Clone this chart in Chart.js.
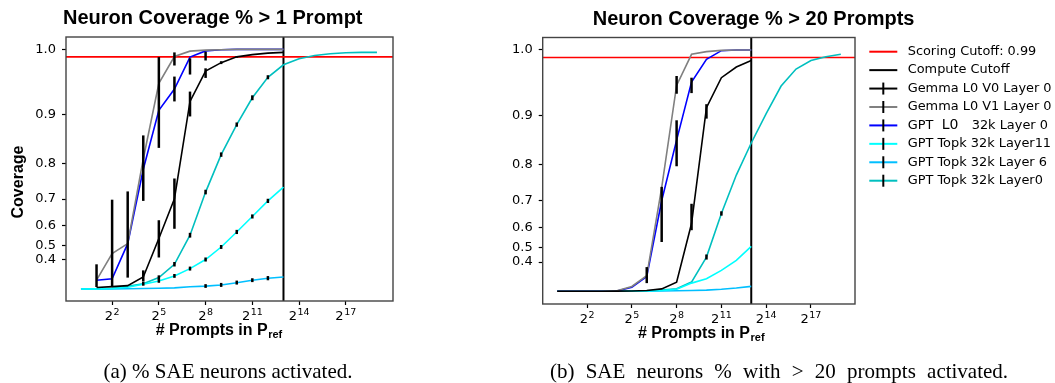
<!DOCTYPE html>
<html><head><meta charset="utf-8">
<script src="https://cdn.jsdelivr.net/npm/chart.js@4.4.1/dist/chart.umd.min.js"></script>
<style>
html,body{margin:0;padding:0;background:#fff;}
body{width:1055px;height:383px;position:relative;overflow:hidden;}
.layer{position:absolute;left:0;top:0;width:1055px;height:383px;}
.cap{position:absolute;font-family:'Liberation Serif','Times New Roman',serif;font-size:21px;color:#000;white-space:nowrap;transform:translateX(-50%);line-height:1;}
</style></head><body>
<div class="layer"><canvas id="ca" width="1055" height="383"></canvas></div>
<div class="layer"><canvas id="cb" width="1055" height="383"></canvas></div>
<div class="cap" style="left:228px;top:361px">(a) % SAE neurons activated.</div>
<div class="cap" style="left:779px;top:361px;word-spacing:6px">(b) SAE neurons % with &gt; 20 prompts activated.</div>
<script>
// ================= DATA =================
const prompts = [1,2,4,8,16,32,64,128,256,512,1024,2048,4096,8192];
const promptsLong = [1,2,4,8,16,32,64,128,256,512,1024,2048,4096,8192,16384,32768,65536,131072,262144,524288];
const xTickValues = [4,32,256,2048,16384,131072];
const xTickBase = ['2','2','2','2','2','2'];
const xTickExp = ['2','5','8','11','14','17'];
const yTickValues = [0.4,0.5,0.6,0.7,0.8,0.9,1.0];
const yTickLabels = ['0.4','0.5','0.6','0.7','0.8','0.9','1.0'];
const scoringCutoff = 0.99;
const computeCutoff = 8192;
const seriesLabels = ['Gemma L0 V0 Layer 0','Gemma L0 V1 Layer 0','GPT  L0  32k Layer 0','GPT Topk 32k Layer11','GPT Topk 32k Layer 6','GPT Topk 32k Layer0'];

// (a) Neuron coverage > 1 prompt
const gemmaV0A    = [null,0.04,0.06,0.08,0.224,0.538,0.701,0.923,0.970,0.982,0.990,0.993,0.995,0.996];
const gemmaV0A_lo = [null,null,null,null,0.165,0.419,0.586,0.897,0.960,0.980,0.989,null,null,null];
const gemmaV0A_hi = [null,null,null,null,0.304,0.623,0.761,0.939,0.974,0.984,0.991,null,null,null];
const gemmaV1A    = [null,0.18,0.447,0.51,0.81,0.952,0.9905,0.9977,0.999,0.9995,1.0,1.0,1.0,1.0];
const gemmaV1A_lo = [null,0.05,0.05,0.216,0.694,0.835,0.978,null,null,null,null,null,null,null];
const gemmaV1A_hi = [null,0.363,0.698,0.724,0.861,0.9897,0.996,null,null,null,null,null,null,null];
const gptL0A      = [null,0.177,0.20,0.51,0.785,0.908,0.943,0.9897,0.998,0.9995,1.0,1.0,1.0,1.0];
const gptL0A_lo   = [null,null,null,null,null,null,0.923,0.965,0.985,null,null,null,null,null];
const gptL0A_hi   = [null,null,null,null,null,null,0.962,0.988,0.997,null,null,null,null,null];
const topkL11A    = [0.002,0.006,0.015,0.045,0.107,0.165,0.238,0.322,0.403,0.490,0.571,0.638,0.694,0.737];
const topkL11A_err= [0,0,0,0,0,0.03,0.025,0.02,0.016,0.012,0.01,0.008,0.007,0];
const topkL6A     = [0.002,0.004,0.006,0.009,0.013,0.02,0.03,0.055,0.07,0.093,0.137,0.177,0.207,0.224];
const topkL6A_err = [0,0,0,0,0,0,0,0,0.04,0.04,0.035,0.03,0.03,0];
const topkL0A     = [0.002,0.008,0.02,0.066,0.119,0.216,0.363,0.555,0.722,0.820,0.882,0.929,0.961,0.979,0.9874,0.9919,0.9943,0.9956,0.996,0.996];
const topkL0A_err = [0,0,0,0,0.04,0.03,0.02,0.012,0.007,0.005,0.004,0.004,0.003,0,0,0,0,0,0,0];

// (b) Neuron coverage > 20 prompts
const gemmaV0B    = [0.002,0.002,0.003,0.004,0.005,0.008,0.02,0.06,0.183,0.617,0.914,0.9615,0.9769,0.986];
const gemmaV0B_lo = [null,null,null,null,null,null,null,null,null,0.588,0.895,null,null,null];
const gemmaV0B_hi = [null,null,null,null,null,null,null,null,null,0.690,0.920,null,null,null];
const gemmaV1B    = [0.002,0.002,0.003,0.004,0.015,0.11,0.27,0.74,0.950,0.9943,0.9978,0.9995,1.0,1.0];
const gemmaV1B_lo = [null,null,null,null,null,null,null,null,0.937,null,null,null,null,null];
const gemmaV1B_hi = [null,null,null,null,null,null,null,null,0.964,null,null,null,null,null];
const gptL0B      = [0.002,0.002,0.003,0.004,0.01,0.095,0.26,0.70,0.854,0.955,0.9875,0.9991,1.0,1.0];
const gptL0B_lo   = [null,null,null,null,null,null,0.167,0.530,0.796,0.938,null,null,null,null];
const gptL0B_hi   = [null,null,null,null,null,null,0.357,0.742,0.892,0.9615,null,null,null,null];
const topkL11B    = [0.002,0.002,0.003,0.004,0.005,0.007,0.01,0.02,0.05,0.167,0.231,0.326,0.413,0.506];
const topkL6B     = [0.002,0.002,0.003,0.004,0.005,0.006,0.008,0.01,0.015,0.02,0.03,0.05,0.077,0.11];
const topkL0B     = [0.002,0.002,0.003,0.004,0.005,0.008,0.012,0.03,0.064,0.183,0.437,0.656,0.774,0.848,0.904,0.949,0.974,0.986,0.991,0.9943];
const topkL0B_err = [0,0,0,0,0,0,0,0,0,0,0.018,0.008,0,0,0,0,0,0,0,0];

// ================= STYLE =================
const seriesColors = ['#000000','#808080','#0000ff','#00ffff','#00bfff','#00bfbf'];
const FONT_SANS = "'DejaVu Sans', sans-serif";
const FONT_BOLD = "'Liberation Sans', Arial, sans-serif";

// custom exp(3y) scale (matplotlib function scale look)
class Exp3Scale extends Chart.LinearScale {
  static id = 'exp3';
  static defaults = {};
  getPixelForValue(value) {
    const a = Math.exp(3*this.min), b = Math.exp(3*this.max);
    return this.getPixelForDecimal((Math.exp(3*value) - a) / (b - a));
  }
  getValueForPixel(pixel) {
    const a = Math.exp(3*this.min), b = Math.exp(3*this.max);
    return Math.log(a + this.getDecimalForPixel(pixel) * (b - a)) / 3;
  }
}
Chart.register(Exp3Scale);

function pts(xs, ys) {
  const out = [];
  ys.forEach((v, i) => { if (v !== null) out.push({x: xs[i], y: v}); });
  return out;
}
function errFromHalf(vals, half) {
  return {lo: vals.map((v,i)=> half[i] ? v - half[i] : null), hi: vals.map((v,i)=> half[i] ? v + half[i] : null)};
}

function makeDatasets(list) {
  return list.map((s, k) => ({
    label: seriesLabels[k],
    data: pts(s.x, s.y),
    borderColor: seriesColors[k],
    backgroundColor: seriesColors[k],
    borderWidth: 1.6,
    pointRadius: 0,
    tension: 0,
    fill: false,
    errLo: s.lo, errHi: s.hi, errX: s.x
  }));
}

const decoPlugin = {
  id: 'deco',
  beforeDatasetsDraw(chart, args, o) {
    const {ctx, chartArea: ca, scales: {x, y}} = chart;
    ctx.save();
    ctx.beginPath(); ctx.rect(ca.left, ca.top, ca.right-ca.left, ca.bottom-ca.top); ctx.clip();
    const xc = x.getPixelForValue(computeCutoff);
    ctx.strokeStyle = '#000'; ctx.lineWidth = 2;
    ctx.beginPath(); ctx.moveTo(xc, ca.top); ctx.lineTo(xc, ca.bottom); ctx.stroke();
    const yc = y.getPixelForValue(scoringCutoff);
    ctx.strokeStyle = '#ff0000'; ctx.lineWidth = 1.6;
    ctx.beginPath(); ctx.moveTo(ca.left, yc); ctx.lineTo(ca.right, yc); ctx.stroke();
    ctx.restore();
  },
  afterDatasetsDraw(chart, args, o) {
    const {ctx, chartArea: ca, scales: {x, y}} = chart;
    ctx.save();
    ctx.strokeStyle = '#000'; ctx.lineWidth = 2.5; ctx.lineCap = 'butt';
    chart.data.datasets.forEach(ds => {
      if (!ds.errLo) return;
      ds.errLo.forEach((lo, i) => {
        const hi = ds.errHi[i];
        if (lo === null || hi === null || lo === undefined) return;
        const px = x.getPixelForValue(ds.errX[i]);
        ctx.beginPath(); ctx.moveTo(px, y.getPixelForValue(lo)); ctx.lineTo(px, y.getPixelForValue(hi)); ctx.stroke();
      });
    });
    ctx.strokeStyle = '#444'; ctx.lineWidth = 1.4;
    ctx.strokeRect(ca.left, ca.top, ca.right-ca.left, ca.bottom-ca.top);
    ctx.restore();
  },
  afterDraw(chart, args, o) {
    const {ctx, chartArea: ca, scales: {x}} = chart;
    ctx.save();
    ctx.fillStyle = '#000';
    // x tick labels: base with superscript exponent
    ctx.textBaseline = 'alphabetic'; ctx.textAlign = 'left';
    xTickValues.forEach((v, i) => {
      const px = x.getPixelForValue(v);
      ctx.font = '13px ' + FONT_SANS;
      const bw = ctx.measureText(xTickBase[i]).width;
      ctx.font = '9.5px ' + FONT_SANS;
      const ew = ctx.measureText(xTickExp[i]).width;
      const sx = px - (bw + ew + 0.5) / 2;
      const by = ca.bottom + 19;
      ctx.font = '13px ' + FONT_SANS;
      ctx.fillText(xTickBase[i], sx, by);
      ctx.font = '9.5px ' + FONT_SANS;
      ctx.fillText(xTickExp[i], sx + bw + 0.5, by - 5);
    });
    // title
    ctx.font = 'bold ' + o.titleSize + 'px ' + FONT_BOLD;
    ctx.fillText(o.title, o.titleX, o.titleY);
    // x axis title with subscript
    ctx.font = 'bold 16px ' + FONT_BOLD;
    const main = '# Prompts in P';
    const mw = ctx.measureText(main).width;
    ctx.font = 'bold 11px ' + FONT_BOLD;
    const sw = ctx.measureText('ref').width;
    const sx = o.xTitleCenter - (mw + sw) / 2;
    const by = ca.bottom + 34;
    ctx.font = 'bold 16px ' + FONT_BOLD;
    ctx.fillText(main, sx, by);
    ctx.font = 'bold 11px ' + FONT_BOLD;
    ctx.fillText('ref', sx + mw + 0.5, by + 3);
    // y title
    if (o.yTitle) {
      ctx.translate(o.yTitleX, o.yTitleY);
      ctx.rotate(-Math.PI/2);
      ctx.font = 'bold 16px ' + FONT_BOLD;
      ctx.textAlign = 'center'; ctx.textBaseline = 'alphabetic';
      ctx.fillText(o.yTitle, 0, 0);
      ctx.setTransform(1,0,0,1,0,0);
    }
    // legend
    if (o.legend) {
      const lx0 = 869.3, lx1 = 897.3, tx = 907.7, y0 = 51.7, dy = 18.43;
      const items = [{label:'Scoring Cutoff: 0.99', color:'#ff0000', bar:false}, {label:'Compute Cutoff', color:'#000', bar:false}]
        .concat(chart.data.datasets.map(d => ({label: d.label, color: d.borderColor, bar: true})));
      items.forEach((it, i) => {
        const yy = y0 + i * dy;
        ctx.strokeStyle = it.color; ctx.lineWidth = 2;
        ctx.beginPath(); ctx.moveTo(lx0, yy); ctx.lineTo(lx1, yy); ctx.stroke();
        if (it.bar) {
          ctx.strokeStyle = '#000'; ctx.lineWidth = 2;
          ctx.beginPath(); ctx.moveTo((lx0+lx1)/2, yy-6); ctx.lineTo((lx0+lx1)/2, yy+6); ctx.stroke();
        }
        ctx.fillStyle = '#000'; ctx.textAlign = 'left'; ctx.textBaseline = 'middle';
        ctx.font = '12.9px ' + FONT_SANS;
        if (it.label.indexOf('  L0  ') >= 0) {
          ctx.fillText('GPT', tx, yy);
          ctx.font = '14px ' + FONT_SANS;
          ctx.fillText('L0', tx + 34, yy);
          ctx.font = '12.9px ' + FONT_SANS;
          ctx.fillText('32k Layer 0', tx + 64, yy);
        } else {
          ctx.fillText(it.label, tx, yy);
        }
      });
    }
    ctx.restore();
  }
};

function makeOptions(cfg) {
  return {
    responsive: false, animation: false, devicePixelRatio: 1,
    layout: {padding: cfg.padding},
    plugins: {legend: {display: false}, tooltip: {enabled: false}, title: {display: false}, deco: cfg.deco},
    scales: {
      x: {
        type: 'logarithmic', min: cfg.xmin, max: cfg.xmax, bounds: 'data',
        afterBuildTicks: s => { s.ticks = xTickValues.map(v => ({value: v})); },
        afterFit: s => { s.height = 35; },
        ticks: {display: false, autoSkip: false, maxRotation: 0, minRotation: 0},
        grid: {display: true, drawOnChartArea: false, drawTicks: true, tickLength: 4, tickWidth: 1.2, tickColor: '#000'},
        border: {display: false}
      },
      y: {
        type: 'exp3', min: cfg.ymin, max: 1.016, bounds: 'data',
        afterBuildTicks: s => { s.ticks = yTickValues.map(v => ({value: v})); },
        afterFit: s => { s.width = cfg.yWidth; },
        ticks: {autoSkip: false, padding: 6, color: '#000',
                font: {family: FONT_SANS, size: 13}, callback: (v, i) => yTickLabels[i]},
        grid: {display: true, drawOnChartArea: false, drawTicks: true, tickLength: 4, tickWidth: 1.2, tickColor: '#000'},
        border: {display: false}
      }
    }
  };
}

const eL11A = errFromHalf(topkL11A, topkL11A_err);
const eL6A = errFromHalf(topkL6A, topkL6A_err);
const eL0A = errFromHalf(topkL0A, topkL0A_err);
const eL0B = errFromHalf(topkL0B, topkL0B_err);

new Chart(document.getElementById('ca'), {
  type: 'line',
  data: {datasets: makeDatasets([
    {x: prompts, y: gemmaV0A, lo: gemmaV0A_lo, hi: gemmaV0A_hi},
    {x: prompts, y: gemmaV1A, lo: gemmaV1A_lo, hi: gemmaV1A_hi},
    {x: prompts, y: gptL0A, lo: gptL0A_lo, hi: gptL0A_hi},
    {x: prompts, y: topkL11A, lo: eL11A.lo, hi: eL11A.hi},
    {x: prompts, y: topkL6A, lo: eL6A.lo, hi: eL6A.hi},
    {x: promptsLong, y: topkL0A, lo: eL0A.lo, hi: eL0A.hi}
  ])},
  options: makeOptions({
    padding: {left: 0, top: 37, right: 662, bottom: 47},
    xmin: Math.pow(2, -0.96), xmax: Math.pow(2, 20.03), ymin: -1, yWidth: 66,
    deco: {title: 'Neuron Coverage % > 1 Prompt', titleSize: 20, titleX: 63, titleY: 24,
           xTitleCenter: 218.7, yTitle: 'Coverage', yTitleX: 23, yTitleY: 182, legend: false}
  }),
  plugins: [decoPlugin]
});

new Chart(document.getElementById('cb'), {
  type: 'line',
  data: {datasets: makeDatasets([
    {x: prompts, y: gemmaV0B, lo: gemmaV0B_lo, hi: gemmaV0B_hi},
    {x: prompts, y: gemmaV1B, lo: gemmaV1B_lo, hi: gemmaV1B_hi},
    {x: prompts, y: gptL0B, lo: gptL0B_lo, hi: gptL0B_hi},
    {x: prompts, y: topkL11B, lo: null, hi: null},
    {x: prompts, y: topkL6B, lo: null, hi: null},
    {x: promptsLong, y: topkL0B, lo: eL0B.lo, hi: eL0B.hi}
  ])},
  options: makeOptions({
    padding: {left: 482.7, top: 37.5, right: 200, bottom: 44},
    xmin: Math.pow(2, -0.97), xmax: Math.pow(2, 19.95), ymin: -3, yWidth: 60,
    deco: {title: 'Neuron Coverage % > 20 Prompts', titleSize: 20, titleX: 592.7, titleY: 25,
           xTitleCenter: 701, yTitle: null, legend: true}
  }),
  plugins: [decoPlugin]
});
</script>
</body></html>
